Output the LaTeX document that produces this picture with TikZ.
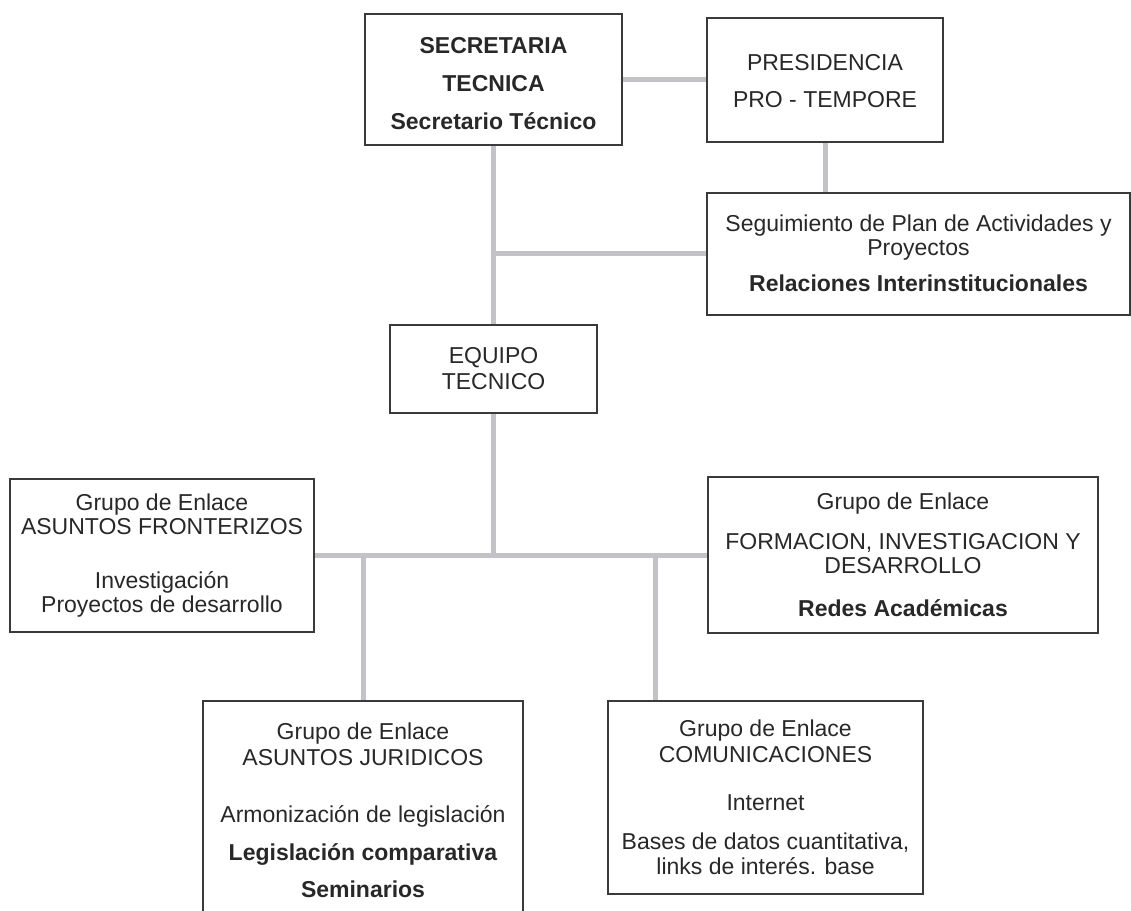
\documentclass[tikz,border=0pt]{standalone}
\usepackage{fontspec}
\setmainfont{Liberation Sans}
\usepackage{tikz}
\usetikzlibrary{positioning, calc}

\begin{document}
\begin{tikzpicture}[font=\fontsize{23pt}{26pt}\selectfont, align=center, line width=2pt,
        box/.style={draw=boxgray, text=textgray, inner sep=0pt, fill=white},
        link/.style={draw=linkgray, line width=5pt}]
        % Define colors
        \definecolor{boxgray}{RGB}{58,58,58}
        \definecolor{textgray}{RGB}{40,40,40}
        \definecolor{linkgray}{RGB}{195,195,199}

        \useasboundingbox (0pt,0pt) rectangle (1131pt,-910pt);

        % Nodes
        \node[box, minimum width=257pt, minimum height=131pt] (sec) at (493.5pt,-79.5pt)
            {\rule{0pt}{24pt}\textbf{SECRETARIA}\\[12pt] \textbf{TECNICA}\\[12pt] \textbf{Secretario Técnico}};
        \node[box, right=83pt of sec, minimum width=236pt, minimum height=124pt] (pres)
            {\rule{0pt}{20pt}PRESIDENCIA\\[11pt] PRO - TEMPORE};
        \node[box, below=49pt of pres, xshift=93.5pt, minimum width=423pt, minimum height=122pt] (seg)
            {Seguimiento de Plan de Actividades y\\[-2pt] Proyectos\\[10pt] \textbf{Relaciones Interinstitucionales}};
        \node[box, below=178pt of sec, minimum width=207pt, minimum height=88pt] (equipo)
            {EQUIPO\\ TECNICO};

        \node[box, below=64pt of equipo, xshift=-331.5pt, minimum width=304pt, minimum height=153pt] (front)
            {Grupo de Enlace\\[-2pt] ASUNTOS FRONTERIZOS\\[28pt] Investigación\\[-2pt] Proyectos de desarrollo};
        \node[box, below=62pt of equipo, xshift=409.5pt, minimum width=390pt, minimum height=156pt] (form)
            {Grupo de Enlace\\[14pt] FORMACION, INVESTIGACION Y\\[-2pt] DESARROLLO\\[17pt] \textbf{Redes Académicas}};
        \node[box, below=67pt of front, xshift=201pt, minimum width=320pt, minimum height=219pt] (jur)
            {Grupo de Enlace\\ ASUNTOS JURIDICOS\\[31pt] Armonización de legislación\\[12pt] \textbf{Legislación comparativa}\\[11pt] \textbf{Seminarios}};
        \node[box, below=66pt of form, xshift=-137.5pt, minimum width=315pt, minimum height=193pt] (com)
            {Grupo de Enlace\\ COMUNICACIONES\\[22pt] Internet\\[13pt] Bases de datos cuantitativa,\\[-1pt] links de interés. base};

        \coordinate (comtop) at ([xshift=48pt]com.north west);

        % Edges
        \draw[link] (sec) -- (pres);
        \draw[link] (sec) -- (equipo);
        \draw[link] (pres.south) -- (pres.south |- seg.north);
        \draw[link] (seg.west) -- (seg.west -| sec.south);
        \draw[link] (equipo.south) -- (equipo.south |- front.east);
        \draw[link] (front.east) -- (front.east -| form.west);
        \draw[link] (jur.north) -- (jur.north |- front.east);
        \draw[link] (comtop) -- (comtop |- front.east);
    \end{tikzpicture}
\end{document}
